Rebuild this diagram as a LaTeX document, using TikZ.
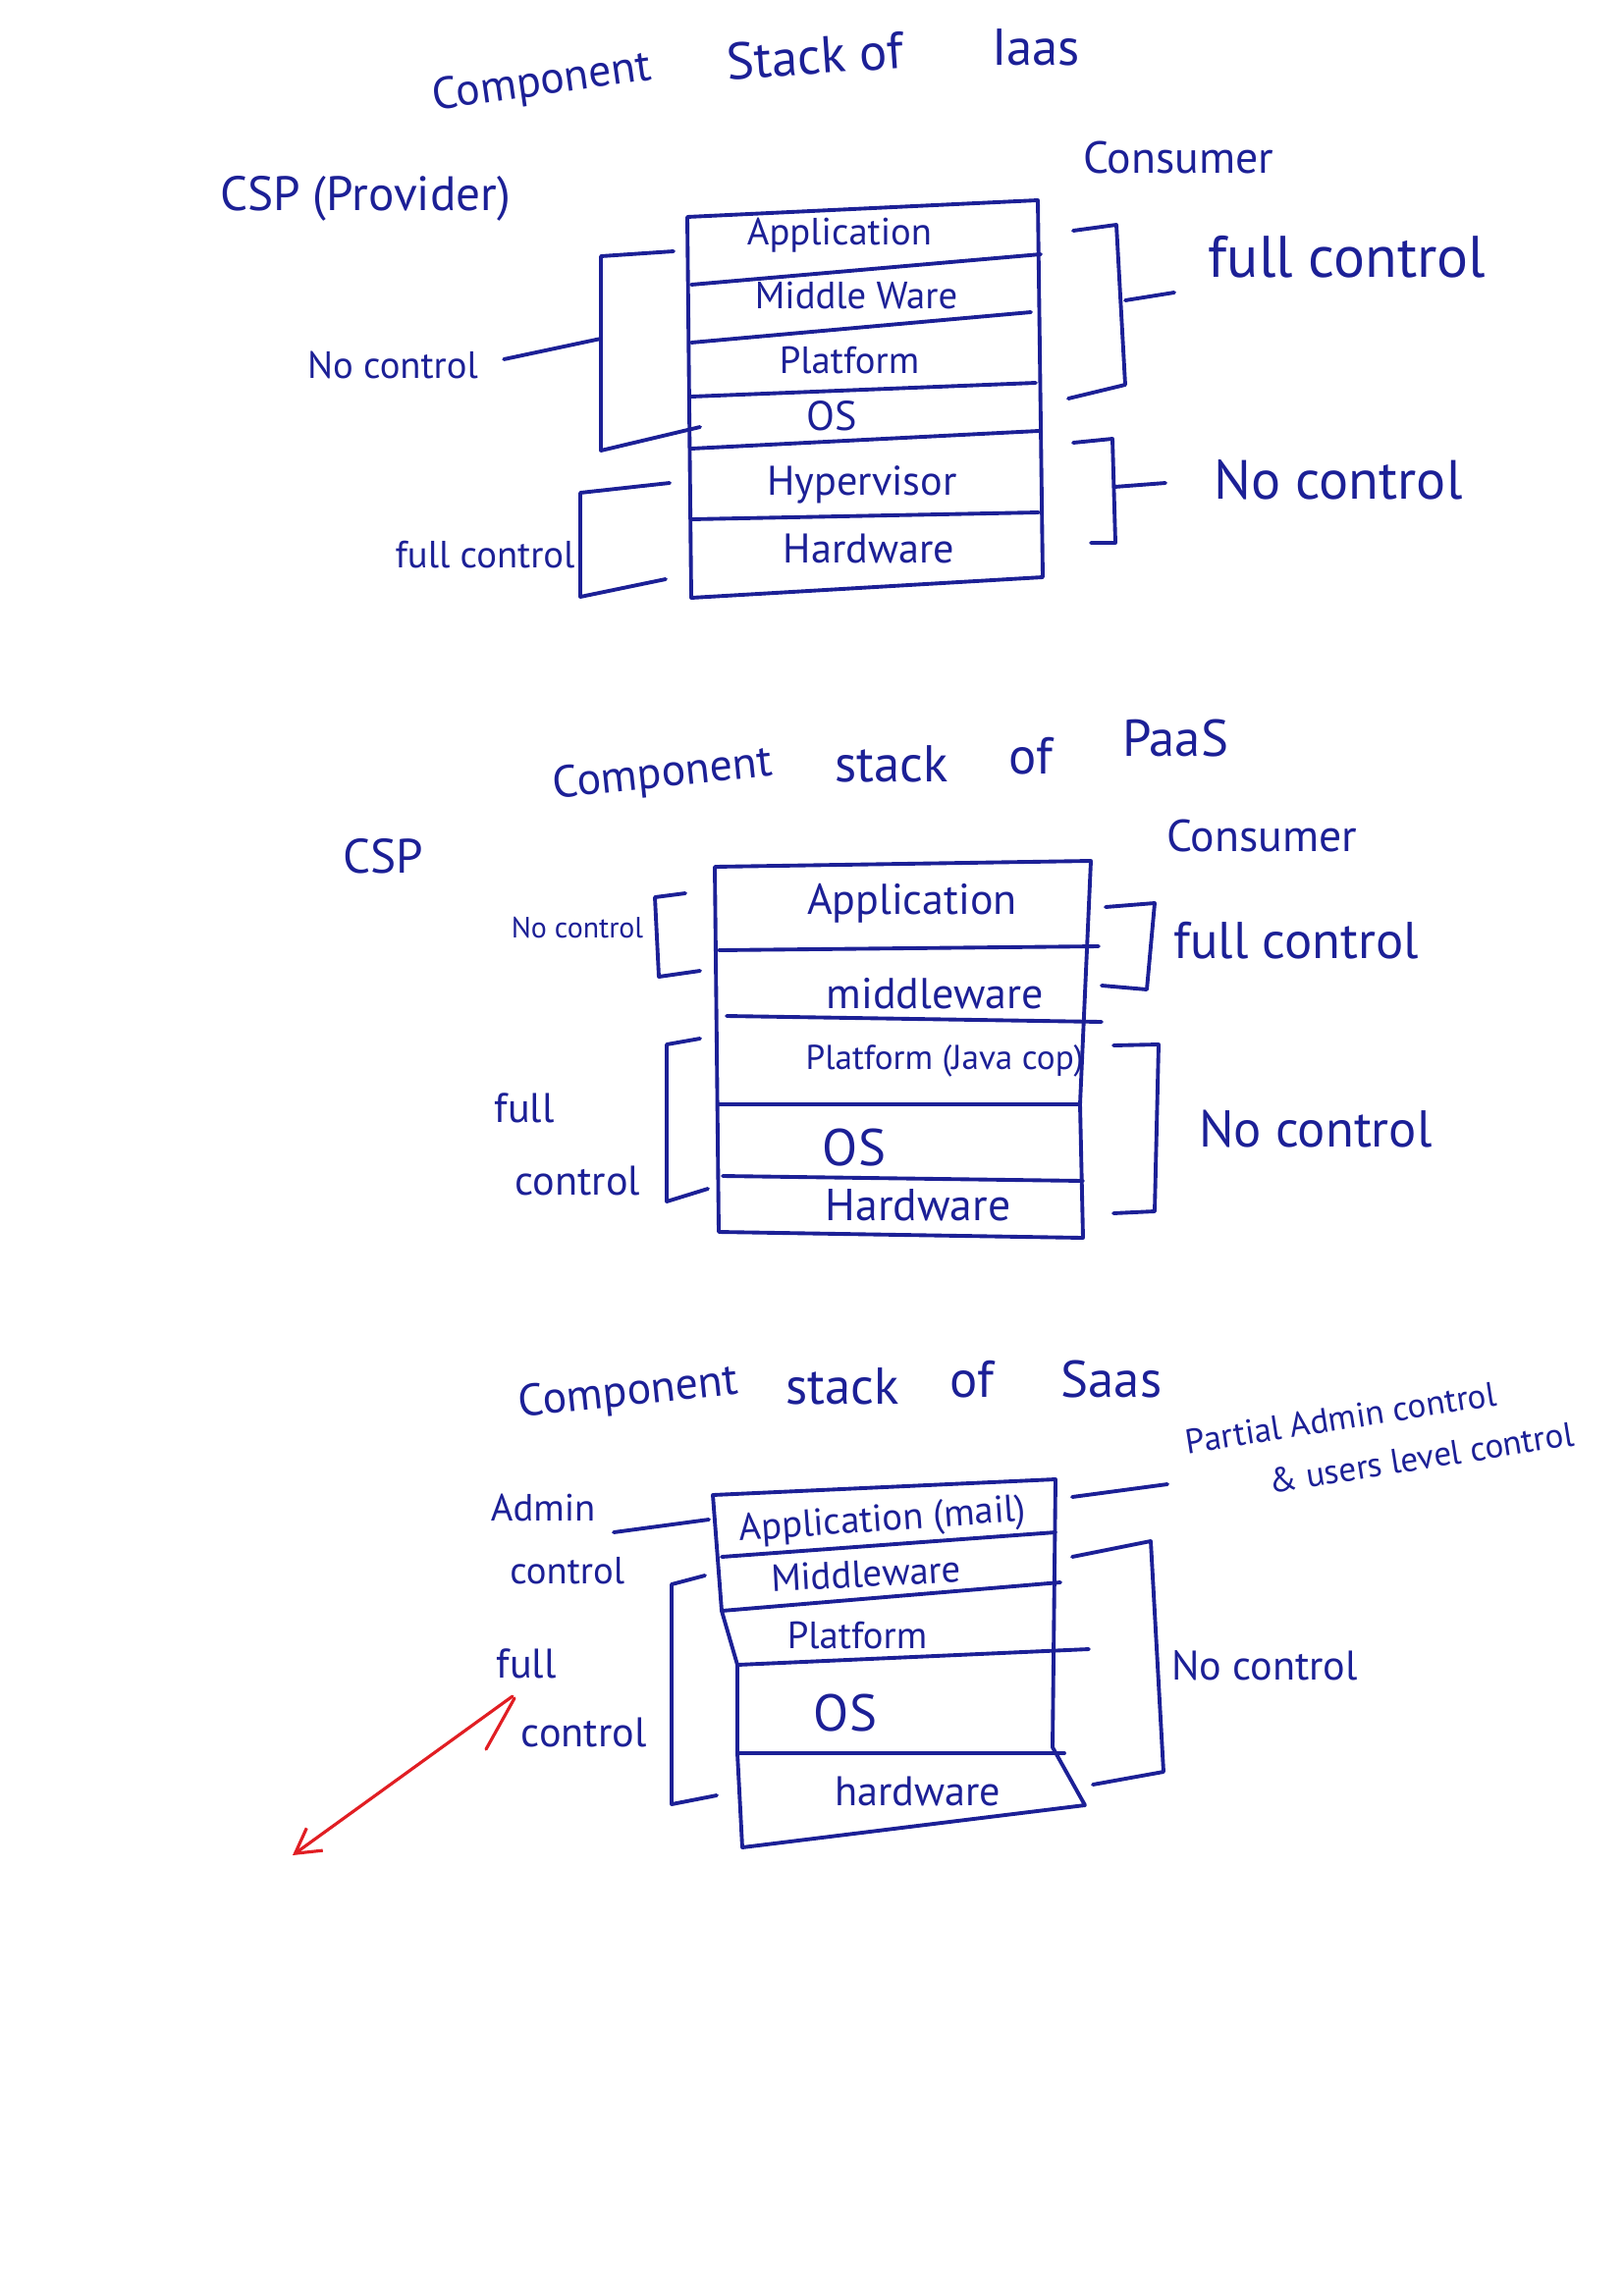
\documentclass[tikz,border=0pt]{standalone}
\usepackage{fontspec}
\setmainfont{PT Sans}
\usetikzlibrary{arrows.meta}
\definecolor{ink}{RGB}{28,32,150}
\definecolor{redink}{RGB}{225,30,35}
\begin{document}
\begin{tikzpicture}[x=0.01cm,y=-0.01cm,
  pen/.style={draw=ink,line width=1.1pt,line cap=round,line join=round},
  redpen/.style={draw=redink,line width=0.9pt,line cap=round},
  ttl/.style={text=ink,inner sep=1pt,font=\fontsize{15}{18}\selectfont},
  lbl/.style={text=ink,inner sep=1pt,font=\fontsize{14}{18}\selectfont,align=center},
  cell/.style={text=ink,inner sep=1pt,font=\fontsize{11}{13}\selectfont},
  small/.style={text=ink,inner sep=1pt,font=\fontsize{9}{11}\selectfont,align=left}]
\useasboundingbox[fill=white] (0,0) rectangle (1653,2339);

% ================= IaaS =================
\node[ttl,rotate=8,font=\fontsize{13}{15}\selectfont] (t1a) at (552,85) {Component};
\node[ttl,rotate=4] (t1b) at (830,57) {Stack of};
\node[ttl] (t1c) at (1055,48) {Iaas};
\node[lbl] (csp1) at (372,202) {CSP (Provider)};
\node[lbl,font=\fontsize{13}{16}\selectfont] (con1) at (1200,160) {Consumer};

\draw[pen] (700,221) -- (1057,204) -- (1062,588) -- (704,609) -- cycle;
\draw[pen] (704,290) -- (1060,259);
\draw[pen] (704,349) -- (1050,318);
\draw[pen] (704,404) -- (1055,390);
\draw[pen] (704,457) -- (1058,439);
\draw[pen] (704,529) -- (1058,522);

\node[cell] (i1) at (855,240) {Application};
\node[cell] (i2) at (872,301) {Middle Ware};
\node[cell] (i3) at (865,367) {Platform};
\node[cell,font=\fontsize{12}{14}\selectfont] (i4) at (847,424) {OS};
\node[cell,font=\fontsize{12}{14}\selectfont] (i5) at (878,494) {Hypervisor};
\node[cell,font=\fontsize{12}{14}\selectfont] (i6) at (885,559) {Hardware};

% left brackets
\draw[pen] (686,256) -- (612,261) -- (612,459) -- (713,435);
\coordinate (ilb1) at (612,345);
\node[lbl,font=\fontsize{11}{14}\selectfont] (inc1) at (400,372) {No control};
\draw[pen] (inc1.east) ++(22,-6) -- (ilb1);
\draw[pen] (682,492) -- (591,502) -- (591,608) -- (678,590);
\node[lbl,font=\fontsize{11}{14}\selectfont] (ifc1) at (494,565) {full control};

% right brackets
\draw[pen] (1093,235) -- (1137,229) -- (1146,392) -- (1088,406);
\coordinate (irb1) at (1146,306);
\node[lbl,font=\fontsize{17}{20}\selectfont] (ifc2) at (1372,262) {full control};
\draw[pen] (irb1) -- (1196,298);
\draw[pen] (1093,451) -- (1133,447) -- (1136,553) -- (1111,553);
\coordinate (irb2) at (1135,496);
\node[lbl,font=\fontsize{16}{20}\selectfont] (inc2) at (1363,489) {No control};
\draw[pen] (irb2) -- (1187,492);

% ================= PaaS =================
\node[ttl,rotate=6,font=\fontsize{13}{15}\selectfont] (t2a) at (675,790) {Component};
\node[ttl] (t2b) at (908,778) {stack};
\node[ttl] (t2c) at (1050,770) {of};
\node[ttl] (t2d) at (1197,752) {PaaS};
\node[lbl] (csp2) at (390,872) {CSP};
\node[lbl,font=\fontsize{13}{16}\selectfont] (con2) at (1285,851) {Consumer};

\draw[pen] (728,883) -- (1111,877) -- (1100,1125) -- (1103,1261) -- (732,1255) -- cycle;
\draw[pen] (732,968) -- (1119,964);
\draw[pen] (740,1035) -- (1122,1041);
\draw[pen] (732,1125) -- (1100,1125);
\draw[pen] (736,1198) -- (1103,1203);

\node[cell,font=\fontsize{12.5}{15}\selectfont] (p1) at (929,920) {Application};
\node[cell,font=\fontsize{12.5}{15}\selectfont] (p2) at (952,1012) {middleware};
\node[cell,font=\fontsize{10}{12}\selectfont] (p3) at (962,1081) {Platform (Java cop)};
\node[cell,font=\fontsize{15}{18}\selectfont] (p4) at (870,1169) {OS};
\node[cell,font=\fontsize{13}{16}\selectfont] (p5) at (935,1228) {Hardware};

\draw[pen] (698,910) -- (667,914) -- (671,995) -- (713,989);
\node[small,font=\fontsize{8.5}{10}\selectfont] (pnc1) at (588,945) {No control};
\draw[pen] (1126,924) -- (1176,920) -- (1168,1008) -- (1122,1004);
\node[lbl,font=\fontsize{15}{18}\selectfont] (pfc1) at (1320,958) {full control};
\draw[pen] (713,1058) -- (679,1064) -- (679,1224) -- (721,1211);
\node[lbl,font=\fontsize{12}{21}\selectfont,align=left] (pfc2) at (578,1166) {full\\\hspace*{0.5em}control};
\draw[pen] (1134,1065) -- (1180,1064) -- (1176,1234) -- (1134,1236);
\node[lbl,font=\fontsize{15}{18}\selectfont] (pnc2) at (1340,1150) {No control};

% ================= SaaS =================
\node[ttl,rotate=6,font=\fontsize{13}{15}\selectfont] (t3a) at (640,1420) {Component};
\node[ttl] (t3b) at (858,1412) {stack};
\node[ttl] (t3c) at (990,1405) {of};
\node[ttl] (t3d) at (1132,1405) {Saas};

\draw[pen] (726,1523) -- (1075,1507) -- (1072,1780) -- (1105,1839) -- (756,1882) -- (751,1786) -- (751,1696) -- (735,1641) -- cycle;
\draw[pen] (735,1586) -- (1075,1561);
\draw[pen] (735,1641) -- (1080,1612);
\draw[pen] (751,1696) -- (1109,1680);
\draw[pen] (751,1786) -- (1084,1786);

\node[cell,rotate=4] (s1) at (899,1550) {Application (mail)};
\node[cell,rotate=3] (s2) at (882,1603) {Middleware};
\node[cell] (s3) at (873,1666) {Platform};
\node[cell,font=\fontsize{15}{18}\selectfont] (s4) at (861,1745) {OS};
\node[cell,font=\fontsize{12}{14}\selectfont] (s5) at (935,1825) {hardware};

\node[lbl,font=\fontsize{11}{18}\selectfont,align=left] (sadm) at (568,1568) {Admin\\\hspace*{0.5em}control};
\coordinate (sa1) at (722,1548);
\draw[pen] (625,1561) -- (sa1);
\draw[pen] (718,1605) -- (684,1614) -- (684,1838) -- (730,1829);
\node[lbl,font=\fontsize{12}{20}\selectfont,align=left] (sfc) at (582,1730) {full\\\hspace*{0.6em}control};
\draw[pen] (1092,1586) -- (1172,1570) -- (1185,1805) -- (1113,1818);
\node[lbl,font=\fontsize{12}{15}\selectfont] (snc) at (1288,1697) {No control};
\coordinate (sr1) at (1092,1525);
\node[small,font=\fontsize{10}{15}\selectfont,rotate=9,anchor=west] (spa) at (1208,1496) {Partial Admin control\\\hspace*{2.2em}\& users level control};
\draw[pen] (sr1) -- (1189,1512);

% red arrow
\coordinate (ra) at (522,1728);
\coordinate (rb) at (298,1890);
\draw[redpen,-{Straight Barb[length=7pt,width=8pt]}] (ra) -- (rb);
\draw[redpen] (524,1730) -- (495,1782);
\end{tikzpicture}
\end{document}
